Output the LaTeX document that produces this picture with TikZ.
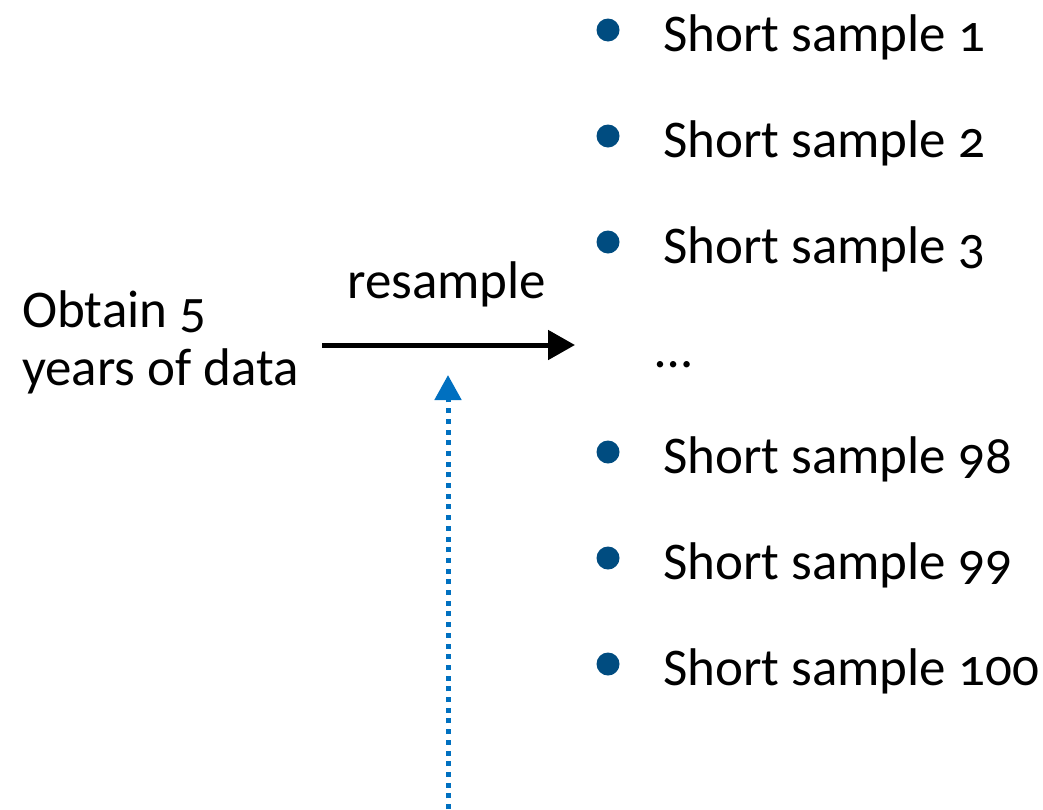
\documentclass[tikz,border=0pt]{standalone}
\usepackage{fontspec}
\setmainfont[Numbers=OldStyle]{Carlito}
\usetikzlibrary{arrows.meta}
\definecolor{bulletblue}{RGB}{0,76,128}
\definecolor{linkblue}{RGB}{0,112,192}
\begin{document}
\begin{tikzpicture}[x=1pt,y=-1pt,
  txt/.style={inner sep=0pt,anchor=base west,font=\fontsize{53}{58}\selectfont},
  dot/.style={circle,fill=bulletblue,inner sep=0pt,minimum size=23pt},
  flow/.style={line width=5pt,-{Triangle[length=27pt,width=29pt]}},
  feed/.style={linkblue,line width=5pt,dash pattern=on 5pt off 5.7pt,
    -{Triangle[length=25pt,width=26pt]}}]
\path[use as bounding box] (0,0) rectangle (1043,809);

% source text (base anchor sits on the last line)
\node[txt,align=left] (src) at (22,385) {Obtain 5\\years of data};

% resample arrow
\coordinate (rs) at (322,345);
\coordinate (re) at (575,345);
\draw[flow] (rs) -- (re);
\node[txt] (lbl) at (347,298) {resample};

% feedback arrow from below
\coordinate (fb) at (448,809);
\coordinate (ft) at (448,375);
\draw[feed] (fb) -- (ft);

% list of samples
\foreach \n/\y in {1/51,2/157,3/263,98/473,99/579,100/685}{
  \node[dot] (b\n) at (608,\y-21) {};
  \node[txt] (s\n) at (663,\y) {Short sample \n};
}
\node[txt] (more) at (655,367) {…};
\end{tikzpicture}
\end{document}
